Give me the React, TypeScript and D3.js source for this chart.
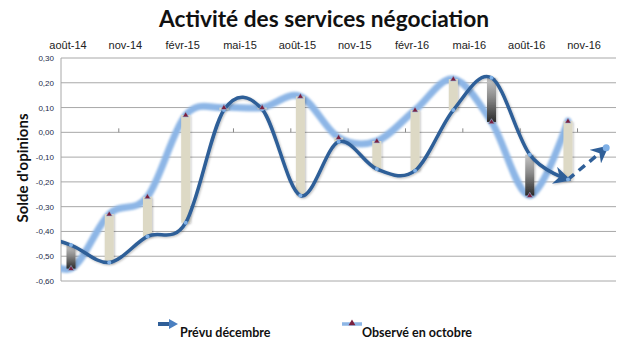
import React from 'react';
import * as d3 from 'd3';

const width = 630;
const height = 350;
const plot = { left: 61, right: 616, top: 58, bottom: 281 };

// month index 0 = août-14; points every two months (first one is before the axis start)
const months = [-2, 0, 2, 4, 6, 8, 10, 12, 14, 16, 18, 20, 22, 24, 26];
const prevu = [-0.41, -0.455, -0.525, -0.42, -0.365, 0.09, 0.093, -0.255, -0.038, -0.148, -0.155, 0.09, 0.22, -0.09, -0.19];
const observe = [-0.47, -0.55, -0.33, -0.26, 0.07, 0.1, 0.1, 0.145, -0.021, -0.035, 0.09, 0.215, 0.042, -0.255, 0.045];
// forecast extension (dashed)
const prevuExtMonths = [26, 28];
const prevuExt = [-0.19, -0.062];

const catLabels = ['août-14', 'nov-14', 'févr-15', 'mai-15', 'août-15', 'nov-15', 'févr-16', 'mai-16', 'août-16', 'nov-16'];
const catMonths = [0, 3, 6, 9, 12, 15, 18, 21, 24, 27];
const tickMonths = [2.5, 5.5, 8.5, 11.5, 14.5, 17.5, 20.5, 23.5, 26.5];
const yTicks = [0.3, 0.2, 0.1, 0, -0.1, -0.2, -0.3, -0.4, -0.5, -0.6];

const x = d3.scaleLinear().domain([0, 28]).range([71, 606.2]);
const y = d3.scaleLinear().domain([-0.6, 0.3]).range([plot.bottom, plot.top]);

const fmt = (v: number) => d3.format('.2f')(v).replace('−', '-').replace('.', ',');

const curve = d3.curveCatmullRom.alpha(0);
const line = d3.line<[number, number]>().x(d => x(d[0])).y(d => y(d[1])).curve(curve);

const darkCol = '#2f5f98';
const lightCol = '#8db6e6';

export default function App() {
  const darkPts: [number, number][] = months.map((m, i) => [m, prevu[i]]);
  const lightPts: [number, number][] = months.map((m, i) => [m, observe[i]]);
  const extPts: [number, number][] = prevuExtMonths.map((m, i) => [m, prevuExt[i]]);
  const bars = months.map((m, i) => ({ m, a: prevu[i], b: observe[i] })).filter(d => d.m >= 0);
  const tri = (cx: number, cy: number, s: number) =>
    `M${cx},${cy - s}L${cx + s * 0.95},${cy + s * 0.6}L${cx - s * 0.95},${cy + s * 0.6}Z`;

  return (
    <svg width={width} height={height} style={{ position: 'absolute', left: 0, top: 0, background: '#fff' }}>
      <defs>
        <clipPath id="plotclip">
          <rect x={plot.left} y={plot.top - 10} width={plot.right - plot.left} height={plot.bottom - plot.top + 20} />
        </clipPath>
        <filter id="blur" x="-5%" y="-20%" width="110%" height="140%">
          <feGaussianBlur stdDeviation="1.1" />
        </filter>
        <filter id="shadow" x="-50%" y="-10%" width="200%" height="120%">
          <feDropShadow dx="1" dy="1" stdDeviation="1" floodColor="#000" floodOpacity="0.25" />
        </filter>
        <linearGradient id="downGrad" x1="0" y1="0" x2="0" y2="1">
          <stop offset="0" stopColor="#c8c8c8" />
          <stop offset="0.45" stopColor="#8a8a8a" />
          <stop offset="1" stopColor="#2a2a2a" />
        </linearGradient>
        <marker id="arrow" viewBox="0 0 10 10" refX="8" refY="5" markerWidth="5" markerHeight="5" orient="auto" markerUnits="strokeWidth">
          <path d="M0,0L10,5L0,10L3,5Z" fill={darkCol} />
        </marker>
      </defs>

      {/* title */}
      <text x={324} y={27} textAnchor="middle" fontFamily="Lato, 'Open Sans', sans-serif" fontWeight="bold" fontSize={22.7} fill="#111">
        Activité des services négociation
      </text>

      {/* category labels on top */}
      {catLabels.map((c, i) => (
        <text key={c} x={x(catMonths[i]) - 3} y={49} textAnchor="middle" fontFamily="'Liberation Sans', Arial, sans-serif" fontSize={11} fill="#222">
          {c}
        </text>
      ))}

      {/* gridlines and y labels */}
      {yTicks.map(v => (
        <g key={v}>
          <line x1={plot.left} x2={plot.right} y1={y(v)} y2={y(v)} stroke="#a8a8a8" strokeWidth={1} />
          <text x={54} y={y(v) + 3} textAnchor="end" fontFamily="'Liberation Sans', Arial, sans-serif" fontSize={8} fill="#1c2a4a">
            {fmt(v)}
          </text>
        </g>
      ))}
      <line x1={plot.left} x2={plot.left} y1={plot.top} y2={plot.bottom} stroke="#a8a8a8" strokeWidth={1} />
      {tickMonths.map(m => (
        <line key={m} x1={x(m)} x2={x(m)} y1={y(0)} y2={y(0) - 4} stroke="#888" strokeWidth={1} />
      ))}

      {/* y axis title */}
      <text transform={`translate(28,${168}) rotate(-90)`} textAnchor="middle" fontFamily="Lato, 'Open Sans', sans-serif" fontWeight="bold" fontSize={15} fill="#111">
        Solde d'opinions
      </text>

      <g clipPath="url(#plotclip)">
        {/* observed line */}
        <path d={line(lightPts) || ''} fill="none" stroke={lightCol} strokeWidth={7} strokeLinecap="round" filter="url(#blur)" />

        {/* up / down bars */}
        {bars.map(d => {
          const top = y(Math.max(d.a, d.b));
          const bot = y(Math.min(d.a, d.b));
          const up = d.b > d.a;
          return (
            <rect key={d.m} x={x(d.m) - 4.5} y={top} width={9} height={Math.max(bot - top, 1)}
              fill={up ? '#ddd9c5' : 'url(#downGrad)'} filter="url(#shadow)" />
          );
        })}

        {/* forecast line */}
        <path d={line(darkPts) || ''} fill="none" stroke={darkCol} strokeWidth={3.5} markerEnd="url(#arrow)" filter="url(#shadow)" />
        <path d={line(extPts) || ''} fill="none" stroke={darkCol} strokeWidth={3.5} strokeDasharray="8 6" markerEnd="url(#arrow)" />

        {/* forecast point markers */}
        {darkPts.filter(d => d[0] >= 0).concat(extPts.slice(1)).map(d => (
          <circle key={'p' + d[0]} cx={x(d[0])} cy={y(d[1])} r={d[0] === 28 ? 3.5 : 2} fill="#7fb0e6" />
        ))}

        {/* observed markers */}
        {lightPts.filter(d => d[0] >= 0).map(d => (
          <path key={'o' + d[0]} d={tri(x(d[0]), y(d[1]), 3.2)} fill="#7a1f3d" stroke="#9bbbe0" strokeWidth={0.6} />
        ))}
      </g>

      {/* legend */}
      <g>
        <line x1={158} x2={172} y1={324} y2={324} stroke={darkCol} strokeWidth={4} />
        <path d="M169,319L178,324L169,329Z" fill="#4a7fc0" />
        <text x={180} y={337} fontFamily="Lato, 'Open Sans', sans-serif" fontWeight="bold" fontSize={12.5} fill="#111">Prévu décembre</text>

        <line x1={342} x2={362} y1={324} y2={324} stroke={lightCol} strokeWidth={3.5} />
        <path d={tri(352, 323, 3.6)} fill="#7a1f3d" />
        <text x={362} y={337} fontFamily="Lato, 'Open Sans', sans-serif" fontWeight="bold" fontSize={12.5} fill="#111">Observé en octobre</text>
      </g>
    </svg>
  );
}
